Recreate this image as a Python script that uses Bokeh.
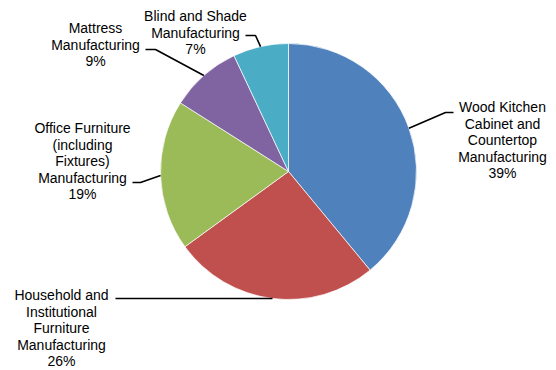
import math
from bokeh.plotting import figure
from bokeh.models import Range1d, ColumnDataSource
from bokeh.core.properties import value
from bokeh.embed import file_html
from bokeh.resources import INLINE

# ---- data ----
categories = [
    "Wood Kitchen\nCabinet and\nCountertop\nManufacturing",
    "Household and\nInstitutional\nFurniture\nManufacturing",
    "Office Furniture\n(including\nFixtures)\nManufacturing",
    "Mattress\nManufacturing",
    "Blind and Shade\nManufacturing",
]
shares = [39, 26, 19, 9, 7]
colors = ["#4F81BD", "#C0504D", "#9BBB59", "#8064A2", "#4BACC6"]

# ---- layout (pixels) ----
W, H = 556, 370
CX, CY, R = 288, 171, 128
label_pos = [(502, 107), (61, 295), (82, 128), (95, 28), (195, 16)]
elbows = [
    [(445, 112), (453, 112)],
    [(115, None)],
    [(140, 182), (132, 182)],
    [(155, 49), (145, 49)],
    [(255, 35), (245, 35)],
]
FONT = "Liberation Sans"
FSIZE = 14
LH = 1.04
TOP_OFF = 8.6


def Y(y):
    return H - y


p = figure(width=W, height=H, output_backend="svg", toolbar_location=None,
           x_range=Range1d(0, W), y_range=Range1d(0, H),
           min_border=0)
p.axis.visible = False
p.grid.visible = False
p.outline_line_color = None

total = sum(shares)
starts, ends, mids = [], [], []
a = math.pi / 2
for s in shares:
    da = 2 * math.pi * s / total
    starts.append(a)
    ends.append(a - da)
    mids.append(a - da / 2)
    a -= da

src = ColumnDataSource(dict(start=ends, end=starts, color=colors))
p.wedge(x=CX, y=Y(CY), radius=R, start_angle="start", end_angle="end",
        fill_color="color", line_color="white", line_width=0.7, source=src)

for m, el in zip(mids, elbows):
    sx = CX + R * math.cos(m)
    sy = CY - R * math.sin(m)
    xs, ys = [sx], [sy]
    for ex, ey in el:
        xs.append(ex)
        ys.append(sy if ey is None else ey)
    p.line(xs, [Y(v) for v in ys], line_color="black", line_width=1.6)

lx, ly, lt = [], [], []
for (x, y), cat, s in zip(label_pos, categories, shares):
    lx.append(x)
    ly.append(Y(y - TOP_OFF))
    lt.append(f"{cat}\n{round(100 * s / total)}%")
p.text(x=lx, y=ly, text=lt, text_align="center", text_baseline="top",
       text_font=value(FONT), text_font_size=f"{FSIZE}px",
       text_line_height=LH, text_color="black")

open("out.html", "w").write(file_html(p, INLINE))
